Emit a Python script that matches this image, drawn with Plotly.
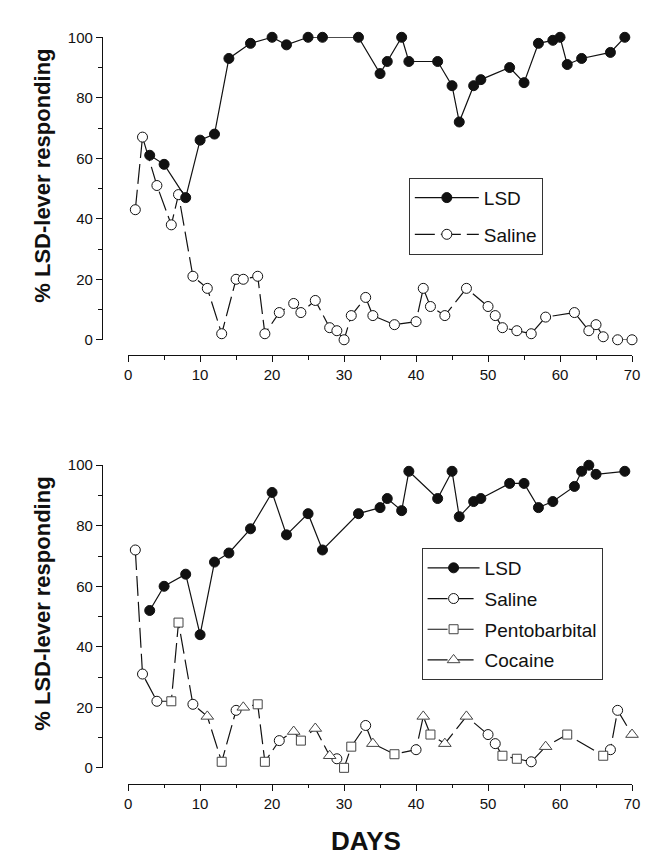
import plotly.graph_objects as go

# ---------------- data ----------------
# Top panel
top_lsd_days = [3, 5, 8, 10, 12, 14, 17, 20, 22, 25, 27, 32, 35, 36, 38, 39, 43, 45, 46, 48, 49, 53, 55, 57, 59, 60, 61, 63, 67, 69]
top_lsd_vals = [61, 58, 47, 66, 68, 93, 98, 100, 97.5, 100, 100, 100, 88, 92, 100, 92, 92, 84, 72, 84, 86, 90, 85, 98, 99, 100, 91, 93, 95, 100]

top_sal_days = [1, 2, 4, 6, 7, 9, 11, 13, 15, 16, 18, 19, 21, 23, 24, 26, 28, 29, 30, 31, 33, 34, 37, 40, 41, 42, 44, 47, 50, 51, 52, 54, 56, 58, 62, 64, 65, 66, 68, 70]
top_sal_vals = [43, 67, 51, 38, 48, 21, 17, 2, 20, 20, 21, 2, 9, 12, 9, 13, 4, 3, 0, 8, 14, 8, 5, 6, 17, 11, 8, 17, 11, 8, 4, 3, 2, 7.5, 9, 3, 5, 1, 0, 0]

# Bottom panel
bot_lsd_days = [3, 5, 8, 10, 12, 14, 17, 20, 22, 25, 27, 32, 35, 36, 38, 39, 43, 45, 46, 48, 49, 53, 55, 57, 59, 62, 63, 64, 65, 69]
bot_lsd_vals = [52, 60, 64, 44, 68, 71, 79, 91, 77, 84, 72, 84, 86, 89, 85, 98, 89, 98, 83, 88, 89, 94, 94, 86, 88, 93, 98, 100, 97, 98]

bot_sal_days = [1, 2, 4, 9, 15, 21, 29, 33, 40, 50, 51, 56, 67, 68]
bot_sal_vals = [72, 31, 22, 21, 19, 9, 3, 14, 6, 11, 8, 2, 6, 19]

bot_pento_days = [6, 7, 13, 18, 19, 24, 30, 31, 37, 42, 52, 54, 61, 66]
bot_pento_vals = [22, 48, 2, 21, 2, 9, 0, 7, 4.5, 11, 4, 3, 11, 4]

bot_coc_days = [11, 16, 23, 26, 28, 34, 41, 44, 47, 58, 70]
bot_coc_vals = [17, 20, 12, 13, 4, 8, 17, 8, 17, 7, 11]

x_ticks = [0, 10, 20, 30, 40, 50, 60, 70]
y_ticks = [0, 20, 40, 60, 80, 100]

# ---------------- styling ----------------
W, H = 649, 859
FONT = "Liberation Sans, Arial, Helvetica, sans-serif"
DASH = "20px,6px"
INK = "#111111"


def px_x(p):
    return p / W


def px_y(p):
    return 1 - p / H


def isolated(xs, ys):
    xo, yo = [], []
    for a, b in zip(xs, ys):
        xo += [a, None]
        yo += [b, None]
    return xo, yo


fig = go.Figure()

# --- top panel ---
fig.add_trace(go.Scatter(
    x=top_sal_days, y=top_sal_vals, name="Saline", mode="lines+markers",
    line=dict(color=INK, width=1.2, dash=DASH),
    marker=dict(symbol="circle", size=10, color="white", line=dict(color=INK, width=1)),
    cliponaxis=False, xaxis="x", yaxis="y", legend="legend", legendgroup="a2", legendrank=2))
fig.add_trace(go.Scatter(
    x=top_lsd_days, y=top_lsd_vals, name="LSD", mode="lines+markers",
    line=dict(color=INK, width=1.2),
    marker=dict(symbol="circle", size=10, color=INK, line=dict(color=INK, width=1)),
    cliponaxis=False, xaxis="x", yaxis="y", legend="legend", legendgroup="a1", legendrank=1))

# --- bottom panel ---
comb = sorted(list(zip(bot_sal_days, bot_sal_vals)) + list(zip(bot_pento_days, bot_pento_vals)) + list(zip(bot_coc_days, bot_coc_vals)))
fig.add_trace(go.Scatter(
    x=[c[0] for c in comb], y=[c[1] for c in comb], mode="lines", showlegend=False,
    line=dict(color=INK, width=1.2, dash=DASH), cliponaxis=False, xaxis="x2", yaxis="y2"))

xs, ys = isolated(bot_sal_days, bot_sal_vals)
fig.add_trace(go.Scatter(
    x=xs, y=ys, name="Saline", mode="lines+markers", connectgaps=False,
    line=dict(color=INK, width=1.2, dash=DASH),
    marker=dict(symbol="circle", size=10, color="white", line=dict(color=INK, width=1)),
    cliponaxis=False, xaxis="x2", yaxis="y2", legend="legend2", legendgroup="b2", legendrank=2))
xs, ys = isolated(bot_pento_days, bot_pento_vals)
fig.add_trace(go.Scatter(
    x=xs, y=ys, name="Pentobarbital", mode="lines+markers", connectgaps=False,
    line=dict(color=INK, width=1.2, dash=DASH),
    marker=dict(symbol="square", size=9, color="white", line=dict(color="#444444", width=1)),
    cliponaxis=False, xaxis="x2", yaxis="y2", legend="legend2", legendgroup="b3", legendrank=3))
xs, ys = isolated(bot_coc_days, bot_coc_vals)
fig.add_trace(go.Scatter(
    x=xs, y=ys, name="Cocaine", mode="lines+markers", connectgaps=False,
    line=dict(color=INK, width=1.2, dash=DASH),
    marker=dict(symbol="triangle-up", size=11, color="white", line=dict(color="#444444", width=1)),
    cliponaxis=False, xaxis="x2", yaxis="y2", legend="legend2", legendgroup="b4", legendrank=4))
fig.add_trace(go.Scatter(
    x=bot_lsd_days, y=bot_lsd_vals, name="LSD", mode="lines+markers",
    line=dict(color=INK, width=1.2),
    marker=dict(symbol="circle", size=10, color=INK, line=dict(color=INK, width=1)),
    cliponaxis=False, xaxis="x2", yaxis="y2", legend="legend2", legendgroup="b1", legendrank=1))

xdom = [px_x(118.3), px_x(631.7)]
common_x = dict(range=[0, 70], domain=xdom, anchor="free", showline=True, linecolor=INK, linewidth=1.3,
                ticks="outside", ticklen=6, tickwidth=1.2, tickcolor=INK, tickvals=x_ticks,
                minor=dict(dtick=5, tick0=0, ticks="outside", ticklen=3.5, tickwidth=1.2, tickcolor=INK),
                showgrid=False, zeroline=False, tickfont=dict(family=FONT, size=15, color=INK),
                fixedrange=True)
common_y = dict(range=[0, 100], anchor="free", position=px_x(91.7), showline=True, linecolor=INK, linewidth=1.3,
                ticks="outside", ticklen=6, tickwidth=1.2, tickcolor=INK, tickvals=y_ticks,
                minor=dict(dtick=10, tick0=0, ticks="outside", ticklen=3.5, tickwidth=1.2, tickcolor=INK),
                showgrid=False, zeroline=False, tickfont=dict(family=FONT, size=15, color=INK),
                fixedrange=True)

legend_common = dict(xanchor="left", yanchor="top", bgcolor="white", bordercolor="#333333", borderwidth=1,
                     font=dict(family=FONT, size=19, color=INK), traceorder="grouped")

fig.update_layout(
    width=W, height=H, margin=dict(l=0, r=0, t=0, b=0),
    paper_bgcolor="white", plot_bgcolor="white",
    xaxis=dict(common_x, position=px_y(345)),
    yaxis=dict(common_y, domain=[px_y(329.3), px_y(20.7)]),
    xaxis2=dict(common_x, position=px_y(782.3)),
    yaxis2=dict(common_y, domain=[px_y(766), px_y(457.3)]),
    legend=dict(legend_common, x=px_x(404.3), y=px_y(164), itemwidth=64, tracegroupgap=9),
    legend2=dict(legend_common, x=px_x(417.3), y=px_y(541.7), itemwidth=52, tracegroupgap=3),
    annotations=[
        dict(text="<b>% LSD-lever responding</b>", x=px_x(31), y=px_y(161.5), xref="paper", yref="paper",
             textangle=-90, showarrow=False, xanchor="center", yanchor="middle",
             font=dict(family=FONT, size=22, color=INK)),
        dict(text="<b>% LSD-lever responding</b>", x=px_x(31), y=px_y(598.1), xref="paper", yref="paper",
             textangle=-90, showarrow=False, xanchor="center", yanchor="middle",
             font=dict(family=FONT, size=22, color=INK)),
        dict(text="<b>DAYS</b>", x=px_x(360.7), y=px_y(858), xref="paper", yref="paper",
             showarrow=False, xanchor="center", yanchor="bottom",
             font=dict(family=FONT, size=26, color=INK)),
    ],
)

fig.write_html("out.html")
